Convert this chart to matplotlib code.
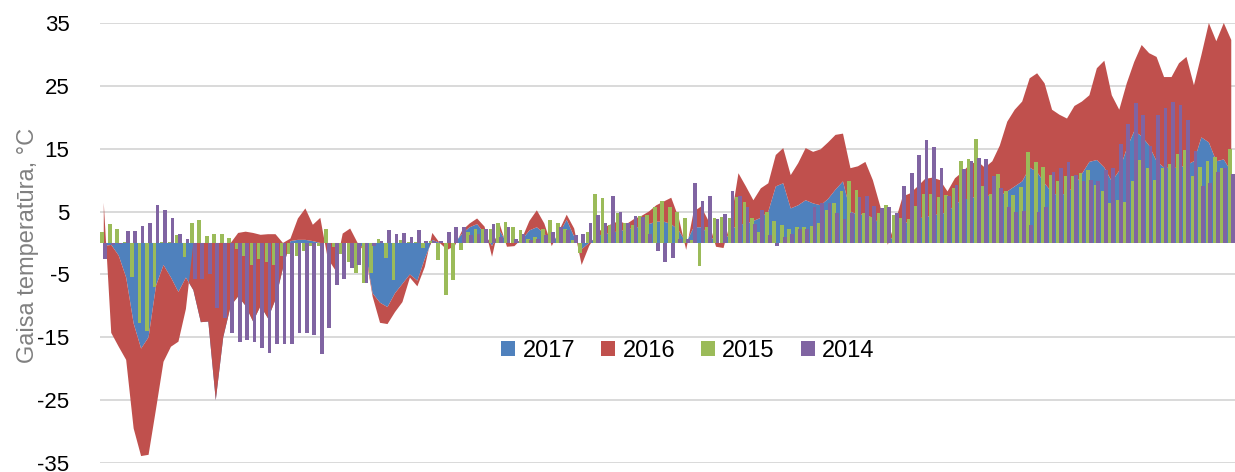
import numpy as np
import matplotlib
matplotlib.use("Agg")
import matplotlib.pyplot as plt

plt.rcParams['axes.unicode_minus'] = False
plt.rcParams['font.family'] = ['Liberation Sans', 'DejaVu Sans']

# daily air temperature, one value per day (152 days)
y2017 = [
    -0.5, -0.3, -2, -5.5, -12.8, -16.8, -15, -6.8, -3.5, -5.5,
    -7.8, -5.5, -7.5, -12.6, -12.5, -25, -15, -10, -8.5, -10,
    -12.5, -10, -12, -9, -4, 0.3, 0.5, 0.5, 0.3, 0,
    0, 0, 0, 0, 0, -1, -8, -9.5, -10.2, -8,
    -6.5, -5, -6, -2.5, 0.5, 0, 0, 0, 1.5, 2.5,
    3, 1.5, -0.5, 2, 0, 0, 0.5, 2, 2.5, 1.5,
    0, 1.5, 3.7, 1, -1, 0, 1, 1.5, 1.5, 2,
    2, 2.5, 2.5, 3, 3.4, 3.4, 3, 2, 0, 2.5,
    2.5, 1.5, 0, 0, 2, 3, 3, 3.5, 4, 5,
    9, 9.5, 5.5, 6, 6.8, 6.3, 6, 7, 8.5, 9.8,
    5, 4.5, 4.5, 4, 3, 0, 1.5, 3, 3.5, 4,
    4, 4.5, 4.5, 5, 6, 7, 7, 7.5, 7.5, 7.5,
    7.5, 8.2, 9, 9.8, 12, 11.3, 9.5, 8, 7.5, 8,
    9, 11, 12.9, 13.2, 12, 9.8, 11.5, 15, 17.8, 17,
    15.5, 13, 12, 11.9, 12, 12.4, 13, 16.8, 16, 13,
    13.3, 11.3,
]

y2016 = [
    6.9, -14, -14.5, -13.1, -16.7, -17.1, -18.7, -19.6, -15.4, -11,
    -7.9, -5, 7.5, 12.6, 12.5, 25, 15, 10, 10.1, 11.8,
    14.1, 11.3, 13.4, 10.4, 4, 0.4, 3.4, 5, 2.6, 4,
    -2.5, -4.3, 1.5, 2.3, 0, -0.5, -0.5, -3.2, -2.7, -3,
    -2.9, -0.5, -0.9, -1.3, 1.1, 0, -1.1, -0.5, 0.5, 0.6,
    0.9, 1.1, -1.7, 1.1, -0.6, -0.5, 0.2, 1.5, 2.7, 1.6,
    -0.5, 0.5, 0.8, 1.3, -2.5, -0.5, 0.5, 1, 1.5, 1.5,
    1, 1.3, 1.8, 2, 2.6, 3.2, 4.2, 2, -1.1, 2.5,
    3.3, 2, -0.6, -0.8, 1.7, 8.1, 6, 3.3, 4.7, 4.5,
    5, 5.6, 5.3, 6.7, 8.3, 8.2, 8.9, 9, 8.7, 7.6,
    6.9, 7.7, 8.4, 6, 2.8, -0.3, 1.9, 4.4, 4.4, 5,
    6.2, 5.9, 5.5, 3.2, 4.3, 4.3, 5.5, 5.5, 4.5, 5.5,
    8, 11.1, 12.2, 12.7, 14.2, 15.7, 15.9, 13.2, 12.9, 11.8,
    12.8, 11.5, 10.6, 14.6, 17, 13.7, 9.7, 10.4, 11, 14.5,
    14.7, 16.6, 14.4, 14.5, 16.6, 17.2, 12.1, 13.1, 19, 19.1,
    21.7, 21,
]

y2015 = [
    1.7, 3, 2.3, 0.2, -5.4, -12.8, -14, -7, 0.2, 0.2,
    1.2, -2.2, 3.1, 3.6, 1.1, 1.4, 1.5, 0.8, -0.9, -2,
    -3.5, -2.5, -3, -3.5, -2, -1.7, -2, -1.3, -0.5, -0.5,
    2.2, -0.6, -1.7, -3, -4.8, -6.4, -4.8, 0.7, -2.4, -5.9,
    0.5, 0.2, 0.2, -0.8, 0.3, -2.7, -8.3, -5.9, -1.1, 1.8,
    2.3, 2.3, 2.3, 3.1, 3.4, 2.6, 2.1, 0.7, 1, 2.3,
    3.7, 3.2, 2.2, 0.5, -1.6, 1.8, 7.8, 7.1, 2.9, 4.7,
    3.1, 2.9, 4.3, 4.5, 5.7, 6.7, 5.7, 5, 3.9, 0.5,
    -3.6, 2.5, 3.9, 4.2, 4, 7.3, 6.6, 4, 1.8, 4.9,
    3.5, 2.9, 2.3, 2.6, 2.5, 2.7, 3.2, 5.2, 6.4, 8.3,
    9.8, 8.4, 4.8, 4.1, 4.7, 6, 4.5, 3.9, 3.8, 5.9,
    7.8, 7.8, 7.3, 7.6, 8.7, 13.1, 13.3, 16.5, 9.1, 7.8,
    11, 8.3, 7.7, 8.9, 14.5, 12.9, 12.1, 10.8, 9.9, 10.6,
    10.7, 11.1, 11.6, 9.2, 8.3, 6.3, 6.9, 6.6, 9.9, 13.2,
    12, 10.1, 11.9, 12.5, 14.1, 14.8, 10.7, 12.1, 13.1, 13.7,
    11.9, 15,
]

y2014 = [
    -2.5, -0.4, -0.2, 1.9, 1.9, 2.7, 3.1, 6.1, 5.2, 4,
    1.4, 0.7, -5.7, -5.7, -4.9, -10.4, -12, -14.3, -15.7, -15.4,
    -15.7, -16.7, -17.5, -16, -16, -16, -14.3, -14.3, -14.7, -17.6,
    -13.6, -6.7, -5.8, -4, -3.5, -6.4, -0.5, 0.3, 2, 1.5,
    1.6, 0.9, 2.1, 0.3, 0.3, 0.3, 1.8, 2.6, 2.6, 1.3,
    1.5, 2.3, 3, 1, 2.6, 0.7, 1.5, 0.5, 0.7, 1.3,
    1.8, 2.5, 2.1, 1.3, 1.5, 3.1, 4.5, 3.1, 7.5, 5,
    3.1, 4.3, 4.2, 1.5, -1.2, -3, -2.4, 0.6, 0.7, 9.6,
    6.7, 7.5, 3.8, 4.6, 8.3, 7.5, 5.7, 3, 5.2, 1.3,
    -0.5, 0.9, 1.5, 2.3, 2.3, 5.7, 6.4, 6.4, 4.7, 3.8,
    4.8, 7.3, 7.5, 5.9, 5.5, 5.7, 4.8, 9.1, 11.2, 14,
    16.4, 15.3, 11.9, 7.4, 9.2, 11.8, 13.1, 13.6, 13.4, 10.7,
    8.7, 5.8, 5, 5.1, 2.8, 4.9, 5.8, 11.3, 12, 12.9,
    10.8, 9.9, 10.1, 9.9, 11.6, 12, 15.7, 18.9, 22.2, 20.4,
    15.5, 20.4, 21.4, 22.5, 22, 19.6, 14.6, 9, 9.5, 11.3,
    12, 11,
]

blue = '#4F81BD'
red = '#C0504D'
green = '#9BBB59'
purple = '#8064A2'

x = np.arange(len(y2017))

fig = plt.figure(figsize=(12.35, 4.72), dpi=100)
ax = fig.add_axes([0.081, 0.0191, 0.919, 0.9322])

# areas are stacked (2016 on top of 2017), bars are clustered
areas = ax.stackplot(x, y2017, y2016, colors=[blue, red], linewidth=0, zorder=2)
b15 = ax.bar(x - 0.2, y2015, 0.5, color=green, zorder=3)
b14 = ax.bar(x + 0.2, y2014, 0.5, color=purple, zorder=4)

ax.set_xlim(-0.5, len(x) - 0.5)
ax.set_ylim(-35, 35)
ax.set_yticks(np.arange(-35, 36, 10))
ax.set_xticks([])
ax.yaxis.grid(True, color='#d9d9d9', linewidth=1.4)
ax.set_axisbelow(True)
for s in ax.spines.values():
    s.set_visible(False)
ax.tick_params(axis='y', length=0, pad=22, labelsize=16, labelcolor='black')

ax.set_ylabel('Gaisa temperatūra, °C', fontsize=17, color='#808080')
ax.yaxis.set_label_coords(-0.054, 0.495)

fig.legend([areas[0], areas[1], b15, b14], ['2017', '2016', '2015', '2014'],
           loc='center', bbox_to_anchor=(0.557, 0.256), ncol=4, frameon=False,
           fontsize=17, handlelength=0.6, handleheight=0.6, handletextpad=0.3,
           columnspacing=1.1)

fig.savefig('out.png', dpi=100)
